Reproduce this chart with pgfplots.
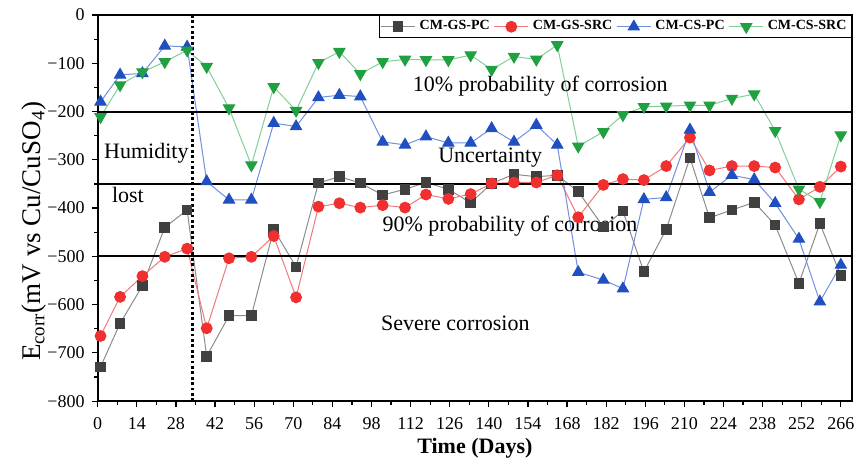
\documentclass[border=0pt]{standalone}
\usepackage{pgfplots}
\pgfplotsset{compat=1.18}
\usepackage{fontspec}
\setmainfont{Liberation Serif}
\definecolor{kmk}{HTML}{404040}
\definecolor{kln}{HTML}{8C8C8C}
\definecolor{rmk}{HTML}{F03030}
\definecolor{rln}{HTML}{F07A7A}
\definecolor{bmk}{HTML}{2050C0}
\definecolor{bln}{HTML}{6F8FE0}
\definecolor{gmk}{HTML}{20A040}
\definecolor{gln}{HTML}{80D095}
\begin{document}
\begin{tikzpicture}
\useasboundingbox (-48.85pt,-37pt) rectangle (379.5pt,200.5pt);
\begin{axis}[
  at={(0,0)}, anchor=south west,
  scale only axis, width=377pt, height=193pt,
  xmin=0, xmax=270, ymin=-800, ymax=0,
  xtick={0,14,...,266}, minor x tick num=1,
  ytick={-800,-700,...,0},
  yticklabels={−800,−700,−600,−500,−400,−300,−200,−100,0},
  minor y tick num=1,
  tick align=outside, tick pos=left,
  major tick length=3pt, minor tick length=1.8pt,
  axis line style={line width=0.8pt},
  every tick/.style={black, line width=0.6pt},
  ticklabel style={font=\fontsize{9}{10}\selectfont},
  xticklabel style={yshift=-1.5pt},
  /pgf/number format/assume math mode=true,
  xlabel={\bfseries Time (Days)},
  ylabel={E\textsubscript{corr}(mV vs Cu/CuSO\textsubscript{4})},
  xlabel style={font=\fontsize{11}{13}\selectfont, yshift=2.5pt},
  ylabel style={font=\fontsize{13.5}{15}\selectfont, at={(ticklabel cs:0.44)}, yshift=-6pt},
  legend style={at={(rel axis cs:1,1)}, anchor=north east, legend columns=-1,
    font=\bfseries\fontsize{7}{8}\selectfont, inner sep=0.5pt, draw=black, line width=0.6pt,
    /tikz/every even column/.append style={column sep=0pt}},
  clip=false,
]
\addplot[kln, line width=0.5pt, mark=square*, mark size=2.4pt, mark options={draw=kmk, fill=kmk}] coordinates {
(1,-729) (8,-639) (16,-561) (24,-440) (32,-404) (39,-707) (47,-623) (55,-623) (63,-444) (71,-522)
(79,-348) (86.5,-335) (94,-348) (102,-373) (110,-361) (117.5,-347) (125.5,-361) (133.5,-389) (141,-349) (149,-330)
(157,-335) (164.5,-332) (172,-366) (181,-439) (188,-406) (195.5,-532) (203.5,-444) (212,-296) (219,-420) (227,-404)
(235,-388) (242.5,-435) (251,-556) (258.5,-432) (266,-540)};
\addlegendentry{CM-GS-PC}
\addplot[rln, line width=0.5pt, mark=*, mark size=2.7pt, mark options={draw=rmk, fill=rmk}] coordinates {
(1,-665) (8,-584) (16,-541) (24,-501) (32,-484) (39,-649) (47,-504) (55,-501) (63,-458) (71,-585)
(79,-397) (86.5,-390) (94,-399) (102,-394) (110,-399) (117.5,-372) (125.5,-381) (133.5,-371) (141,-349) (149,-347)
(157,-347) (164.5,-332) (172,-419) (181,-352) (188,-340) (195.5,-342) (203.5,-313) (212,-254) (219,-322) (227,-313)
(235,-313) (242.5,-316) (251,-382) (258.5,-356) (266,-314)};
\addlegendentry{CM-GS-SRC}
\addplot[bln, line width=0.5pt, mark=triangle*, mark size=3.2pt, mark options={draw=bmk, fill=bmk}] coordinates {
(1,-180) (8,-124) (16,-121) (24,-64) (32,-66) (39,-345) (47,-383) (55,-383) (63,-224) (71,-231)
(79,-171) (86.5,-166) (94,-169) (102,-263) (110,-269) (117.5,-252) (125.5,-265) (133.5,-265) (141,-235) (149,-263)
(157,-228) (164.5,-269) (172,-533) (181,-549) (188,-567) (195.5,-382) (203.5,-378) (212,-238) (219,-367) (227,-332)
(235,-341) (242.5,-390) (251,-464) (258.5,-594) (266,-518)};
\addlegendentry{CM-CS-PC}
\addplot[gln, line width=0.5pt, mark=triangle*, mark size=3.2pt, mark options={draw=gmk, fill=gmk, rotate=180}] coordinates {
(1,-211) (8,-145) (16,-118) (24,-97) (32,-73) (39,-107) (47,-193) (55,-311) (63,-149) (71,-198)
(79,-99) (86.5,-76) (94,-122) (102,-97) (110,-92) (117.5,-93) (125.5,-93) (133.5,-83) (141,-113) (149,-86)
(157,-92) (164.5,-62) (172,-272) (181,-242) (188,-207) (195.5,-190) (203.5,-189) (212,-187) (219,-187) (227,-173)
(235,-164) (242.5,-240) (251,-361) (258.5,-387) (266,-249)};
\addlegendentry{CM-CS-SRC}
\draw[black, line width=1pt] (axis cs:0,-200) -- (axis cs:270,-200);
\draw[black, line width=1pt] (axis cs:0,-350) -- (axis cs:270,-350);
\draw[black, line width=1pt] (axis cs:0,-500) -- (axis cs:270,-500);
\draw[black, line width=1.6pt, dash pattern=on 1.4pt off 1.3pt] (axis cs:34,-800) -- (axis cs:34,0);
\begin{scope}[every node/.style={font=\fontsize{11}{13}\selectfont, inner sep=0pt}]
\node at (axis cs:158.4,-147) {10\% probability of corrosion};
\node at (axis cs:17.4,-286) {Humidity};
\node at (axis cs:10.8,-373) {lost};
\node at (axis cs:140.5,-296) {Uncertainty};
\node at (axis cs:147.6,-437) {90\% probability of corrosion};
\node at (axis cs:128,-638) {Severe corrosion};
\end{scope}
\end{axis}
\end{tikzpicture}
\end{document}
